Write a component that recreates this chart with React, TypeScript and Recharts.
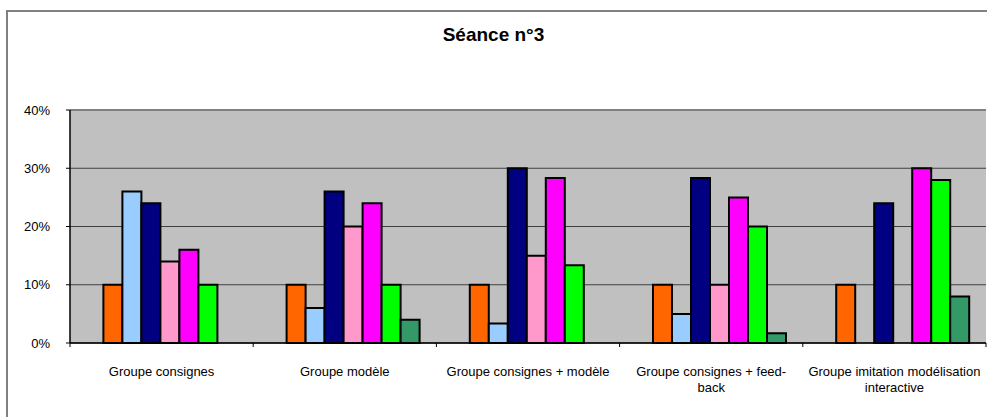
import React from 'react';
import { BarChart, Bar, XAxis, YAxis, CartesianGrid, ReferenceLine } from 'recharts';

const title = 'Séance n°3';
const categories = [
  'Groupe consignes',
  'Groupe modèle',
  'Groupe consignes + modèle',
  'Groupe consignes + feed-\nback',
  'Groupe imitation modélisation\ninteractive',
];
const serie0 = [0, 0, 0, 0, 0];
const serie1 = [0.1, 0.1, 0.1, 0.1, 0.1];
const serie2 = [0.26, 0.06, 0.0333, 0.05, 0];
const serie3 = [0.24, 0.26, 0.3, 0.2833, 0.24];
const serie4 = [0.14, 0.2, 0.15, 0.1, 0];
const serie5 = [0.16, 0.24, 0.2833, 0.25, 0.3];
const serie6 = [0.1, 0.1, 0.1333, 0.2, 0.28];
const serie7 = [0, 0.04, 0, 0.0167, 0.08];
const yTicks = [0, 0.1, 0.2, 0.3, 0.4];

const seriesList = [serie0, serie1, serie2, serie3, serie4, serie5, serie6, serie7];
const seriesColors = ['#C0C0C0', '#FF6600', '#99CCFF', '#000080', '#FF99CC', '#FF00FF', '#00FF00', '#339966'];

const data = categories.map((name, i) => {
  const row: Record<string, any> = { name };
  seriesList.forEach((s, k) => {
    row['s' + k] = s[i];
  });
  return row;
});

const FONT = '"Liberation Sans", Arial, sans-serif';

const XTick = (props: any) => {
  const { x, y, payload, index } = props;
  const half = payload && typeof payload.offset === 'number' && payload.offset > 0 ? payload.offset : 91.6;
  const lines = String(payload.value).split('\n');
  const last = index === categories.length - 1;
  return (
    <g>
      <line x1={x - half} x2={x - half} y1={y} y2={y + 4} stroke="#000" strokeWidth={1} />
      {last && <line x1={x + half} x2={x + half} y1={y} y2={y + 4} stroke="#000" strokeWidth={1} />}
      <text x={x} y={y} textAnchor="middle" fontFamily={FONT} fontSize={13} fill="#000">
        {lines.map((l, i) => (
          <tspan key={i} x={x} y={y + 33 + i * 15.7}>
            {l}
          </tspan>
        ))}
      </text>
    </g>
  );
};

export default function App() {
  return (
    <div style={{ position: 'absolute', left: 0, top: 0, width: 987, height: 417, overflow: 'hidden', background: '#fff' }}>
      <div
        style={{
          position: 'absolute',
          left: 6,
          top: 10,
          width: 1100,
          height: 600,
          borderLeft: '2px solid #808080',
          borderTop: '2px solid #808080',
        }}
      />
      <div
        style={{
          position: 'absolute',
          left: 0,
          top: 25,
          width: 987,
          textAlign: 'center',
          fontFamily: FONT,
          fontWeight: 'bold',
          fontSize: 19,
          lineHeight: '20px',
          color: '#000',
        }}
      >
        {title}
      </div>
      <div style={{ position: 'absolute', left: 0, top: 0 }}>
        <BarChart
          width={987}
          height={417}
          data={data}
          margin={{ top: 110, right: 1, bottom: 0, left: 0 }}
          barCategoryGap={14.4}
          barGap={0}
        >
          <CartesianGrid vertical={false} stroke="#404040" strokeWidth={1} fill="#C0C0C0" fillOpacity={1} />
          <XAxis
            dataKey="name"
            height={74}
            tickSize={0}
            tickMargin={0}
            tickLine={false}
            interval={0}
            axisLine={{ stroke: '#000', strokeWidth: 1.5 }}
            tick={<XTick />}
          />
          <YAxis
            width={70}
            domain={[0, 0.4]}
            ticks={yTicks}
            tickSize={4}
            tickMargin={16}
            interval={0}
            tickFormatter={(v: number) => `${Math.round(v * 100)}%`}
            axisLine={{ stroke: '#000', strokeWidth: 1.5 }}
            tickLine={{ stroke: '#000' }}
            tick={{ fill: '#000', fontSize: 13, fontFamily: FONT }}
          />
          <YAxis
            yAxisId="frame"
            orientation="right"
            width={0}
            domain={[0, 0.4]}
            tick={false}
            tickLine={false}
            axisLine={{ stroke: '#808080', strokeWidth: 2 }}
          />
          <ReferenceLine y={0.4} stroke="#808080" strokeWidth={2} />
          {seriesList.map((_, k) => (
            <Bar
              key={k}
              dataKey={'s' + k}
              fill={seriesColors[k]}
              stroke="#000"
              strokeWidth={2}
              isAnimationActive={false}
            />
          ))}
        </BarChart>
      </div>
    </div>
  );
}
